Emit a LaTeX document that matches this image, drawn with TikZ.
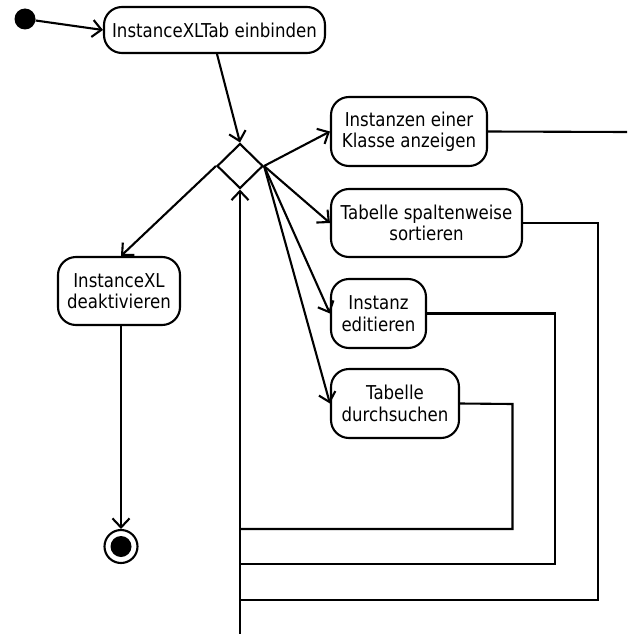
\documentclass[tikz,border=0pt]{standalone}
\usepackage{fontspec}
\setmainfont{DejaVu Sans}[FakeStretch=0.87]
\usetikzlibrary{shapes.geometric,arrows.meta}
\begin{document}
\begin{tikzpicture}[x=1pt,y=-1pt,
  act/.style={draw,line width=2.1pt,rounded corners=18pt,align=center,inner sep=0pt,
    font=\fontsize{19.1}{21.5}\selectfont},
  flow/.style={line width=2.1pt},
  arr/.style={flow,-{Straight Barb[length=9pt,width=17pt]}}]
\useasboundingbox (0,0) rectangle (627,634);
% nodes
\node[circle,fill=black,inner sep=0pt,minimum size=21pt] (start) at (25,19) {};
\node[act,minimum width=221pt,minimum height=46pt] (b1) at (214.5,30) {InstanceXLTab einbinden};
\node[draw,line width=2.1pt,shape=diamond,inner sep=0pt,minimum width=46pt,minimum height=45pt] (dec) at (240,166) {};
\node[act,minimum width=156pt,minimum height=69pt] (b2) at (409,131.5) {Instanzen einer\\Klasse anzeigen};
\node[act,minimum width=191pt,minimum height=68pt] (b3) at (426.5,223) {Tabelle spaltenweise\\sortieren};
\node[act,minimum width=95pt,minimum height=69pt] (b4) at (378.5,313.5) {Instanz\\editieren};
\node[act,minimum width=128pt,minimum height=69pt] (b5) at (395,403.5) {Tabelle\\durchsuchen};
\node[act,minimum width=122pt,minimum height=68pt] (b6) at (119,291) {InstanceXL\\deaktivieren};
\node[circle,draw,line width=2.1pt,inner sep=0pt,minimum size=33pt] (end) at (121,546.5) {};
\node[circle,fill=black,inner sep=0pt,minimum size=21pt] (endin) at (end.center) {};
% coordinates
\coordinate (c2) at (627,132);
\coordinate (r3a) at (598,223);
\coordinate (r3b) at (598,600);
\coordinate (l3) at (240,600);
\coordinate (r4a) at (555,313.5);
\coordinate (r4b) at (555,564);
\coordinate (l4) at (240,564);
\coordinate (r5a) at (512.5,404);
\coordinate (r5b) at (512.5,529);
\coordinate (l5) at (240,529);
\coordinate (bot) at (240,634);
% connectors
\draw[arr] (start) -- (b1.west);
\draw[arr] ([xshift=2.5pt]b1.south) -- (dec.north);
\draw[arr] (dec.west) -- ([xshift=2pt]b6.north);
\draw[arr] (dec.east) -- (b2.west);
\draw[arr] (dec.east) -- (b3.west);
\draw[arr] (dec.east) -- (b4.west);
\draw[arr] (dec.east) -- (b5.west);
\draw[arr] ([xshift=2pt]b6.south) -- (end);
\draw[flow] (b2.east) -- (c2);
\draw[flow] (b3.east) -- (r3a) -- (r3b) -- (l3);
\draw[flow] (b4.east) -- (r4a) -- (r4b) -- (l4);
\draw[flow] (b5.east) -- (r5a) -- (r5b) -- (l5);
\draw[arr] (bot) -- (dec.south);
\end{tikzpicture}
\end{document}
